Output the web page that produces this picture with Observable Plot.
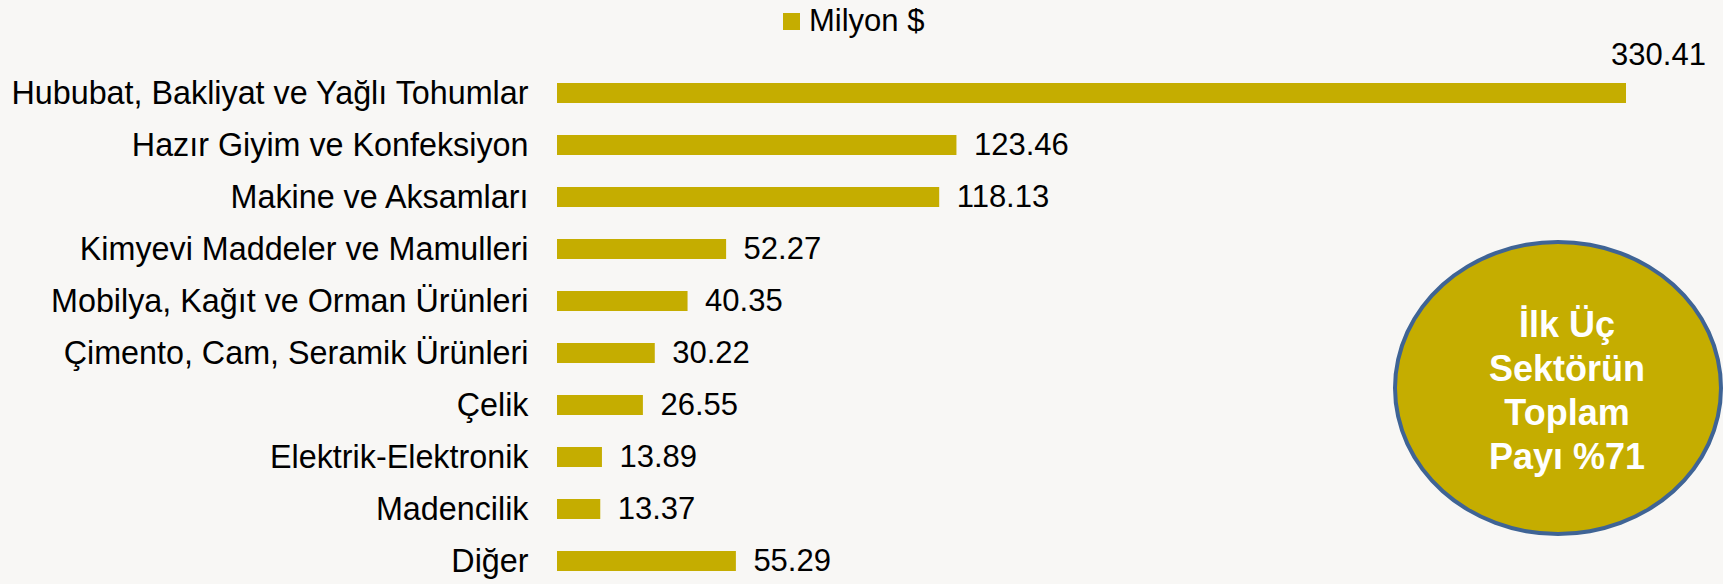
<!DOCTYPE html>
<html>
<head>
<meta charset="utf-8">
<script src="https://cdn.jsdelivr.net/npm/d3@7"></script>
<script src="https://cdn.jsdelivr.net/npm/@observablehq/plot@0.6"></script>
<style>
  html, body { margin: 0; padding: 0; background: #f8f7f5; }
  #wrap { position: relative; width: 1723px; height: 584px; overflow: hidden; font-family: "Liberation Sans", Arial, sans-serif; background: #f8f7f5; }
  #legend { position: absolute; left: 783px; top: 3px; display: flex; align-items: center; font-size: 31px; color: #000; }
  #legend .sw { width: 17px; height: 17px; background: #C5AD00; margin-right: 9px; }
  #badge { position: absolute; left: 1393px; top: 240px; width: 330px; height: 296px; box-sizing: border-box;
           border-radius: 50%; background: #C5AD00; border: 4px solid #3F6495;
           display: flex; align-items: center; justify-content: center; text-align: center;
           padding-left: 18px; padding-top: 6px;
           color: #fff; font-weight: bold; font-size: 36px; line-height: 44px; }
  svg { background: transparent; }
</style>
</head>
<body>
<div id="wrap">
  <div id="chart"></div>
  <div id="legend"><div class="sw"></div><span>Milyon $</span></div>
  <div id="badge"><div>İlk Üç<br>Sektörün<br>Toplam<br>Payı %71</div></div>
</div>
<script>
const categories = [
  "Hububat, Bakliyat ve Yağlı Tohumlar",
  "Hazır Giyim ve Konfeksiyon",
  "Makine ve Aksamları",
  "Kimyevi Maddeler ve Mamulleri",
  "Mobilya, Kağıt ve Orman Ürünleri",
  "Çimento, Cam, Seramik Ürünleri",
  "Çelik",
  "Elektrik-Elektronik",
  "Madencilik",
  "Diğer"
];
const values = [330.41, 123.46, 118.13, 52.27, 40.35, 30.22, 26.55, 13.89, 13.37, 55.29];
const seriesName = "Milyon $";

const data = categories.map((c, i) => ({category: c, value: values[i]}));
const gold = "#C5AD00";
const fmt = d3.format(".2f");

const chart = Plot.plot({
  width: 1723,
  height: 584,
  marginLeft: 557,
  marginRight: 0,
  marginTop: 64,
  marginBottom: 0,
  style: {fontFamily: "Liberation Sans, Arial, sans-serif", background: "transparent", overflow: "visible"},
  x: {domain: [0, 330.41], range: [557, 1626], axis: null},
  y: {domain: categories, range: [64.5, 589], paddingInner: 0.62, paddingOuter: 0.31, label: null},
  marks: [
    Plot.barX(data, {x: "value", y: "category", fill: gold}),
    Plot.axisY({tickSize: 0, tickPadding: 29, fontSize: 32.3, fill: "#000", label: null}),
    Plot.ruleX([0], {y1: 65, y2: 600, stroke: "#8a8a8a", strokeWidth: 1.5}),
    Plot.text(data.slice(1), {x: "value", y: "category", text: d => fmt(d.value), textAnchor: "start", dx: 17, fontSize: 31, fill: "#000"}),
    Plot.text(data.slice(0, 1), {x: "value", y: "category", text: d => fmt(d.value), textAnchor: "middle", dx: 32, dy: -38, fontSize: 31, fill: "#000"})
  ]
});
document.getElementById("chart").appendChild(chart);
</script>
</body>
</html>
